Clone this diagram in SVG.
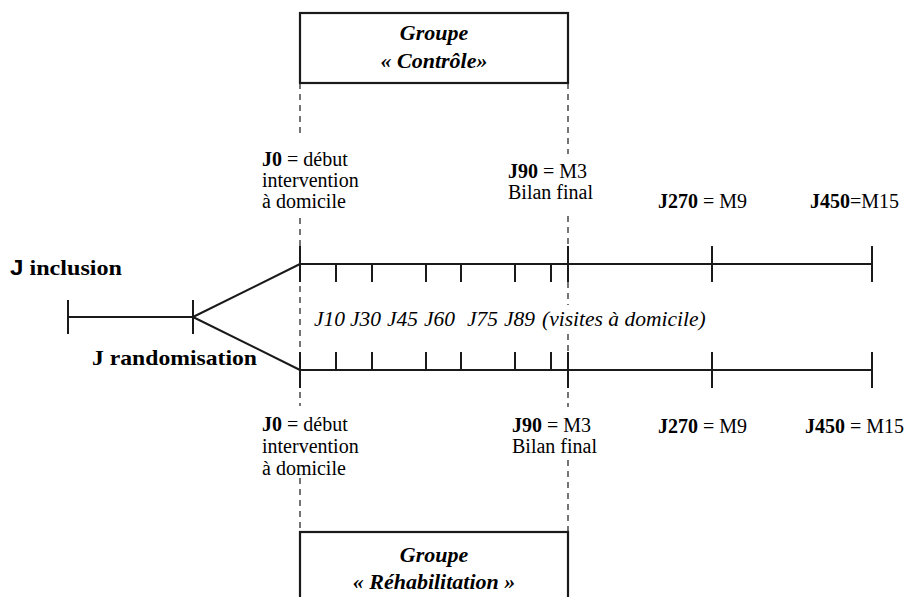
<svg xmlns="http://www.w3.org/2000/svg" width="906" height="597" viewBox="0 0 906 597">
<style>
.ln{stroke:#1a1a1a;stroke-width:2;fill:none}
.dash{stroke:#1a1a1a;stroke-width:1.2;stroke-dasharray:6 5;fill:none}
.box{stroke:#1a1a1a;stroke-width:2.2;fill:#fff}
text{font-family:"Liberation Serif","Times New Roman",serif;fill:#000}
.lab{font-size:20px}
.b{font-weight:bold}
.it{font-size:21.5px;font-style:italic}
.grp{font-size:22px;font-weight:bold;font-style:italic;text-anchor:middle}
.big{font-size:22px;font-weight:bold}
</style>
<rect width="906" height="597" fill="#fff"/>
<g id="connectors">
  <!-- dashed guides -->
  <path class="dash" d="M300,83 V138 M300,218 V264 M300,264 V370 M300,370 V406 M300,478 V532"/>
  <path class="dash" d="M568,83 V154 M568,216 V305 M568,334 V370 M568,370 V407 M568,460 V532"/>
  <!-- inclusion segment -->
  <path class="ln" d="M68,317 H193 M68,300 V334 M193,300 V334"/>
  <path class="ln" d="M193,317 L300,264 M193,317 L300,370"/>
  <!-- top timeline -->
  <path class="ln" d="M300,264 H872 M300,246 V282 M568,246 V282 M712,246 V282 M872,246 V282"/>
  <path class="ln" d="M336,264 V282 M372,264 V282 M426,264 V282 M461,264 V282 M515,264 V282 M551,264 V282"/>
  <!-- bottom timeline -->
  <path class="ln" d="M300,370 H872 M300,352 V388 M568,352 V388 M712,352 V388 M872,352 V388"/>
  <path class="ln" d="M336,352 V370 M372,352 V370 M426,352 V370 M461,352 V370 M515,352 V370 M551,352 V370"/>
</g>
<g id="groupe-controle">
  <rect class="box" x="300" y="13" width="268" height="70"/>
  <text class="grp" x="434" y="40">Groupe</text>
  <text class="grp" x="434" y="68">« Contrôle»</text>
</g>
<g id="groupe-rehabilitation">
  <rect class="box" x="300" y="532" width="268" height="80"/>
  <text class="grp" x="434" y="562">Groupe</text>
  <text class="grp" x="434" y="589">« Réhabilitation »</text>
</g>
<g id="j-inclusion">
  <text class="big" x="10" y="275" textLength="112" lengthAdjust="spacingAndGlyphs"><tspan font-family="Liberation Sans, Arial, sans-serif">J</tspan> inclusion</text>
</g>
<g id="j-randomisation">
  <text class="big" x="92" y="365" textLength="165" lengthAdjust="spacingAndGlyphs">J randomisation</text>
</g>
<g id="visites">
  <text class="it" y="326"><tspan x="314">J10</tspan><tspan x="350">J30</tspan><tspan x="387">J45</tspan><tspan x="424">J60</tspan><tspan x="467">J75</tspan><tspan x="504">J89</tspan><tspan x="542">(visites à domicile)</tspan></text>
</g>
<g id="top-j0">
  <text class="lab" x="262" y="166"><tspan class="b">J0</tspan> = début</text>
  <text class="lab" x="262" y="187">intervention</text>
  <text class="lab" x="262" y="208">à domicile</text>
</g>
<g id="top-j90">
  <text class="lab" x="508" y="178"><tspan class="b">J90</tspan> = M3</text>
  <text class="lab" x="508" y="199">Bilan final</text>
</g>
<g id="top-j270">
  <text class="lab" x="658" y="208"><tspan class="b">J270</tspan> = M9</text>
</g>
<g id="top-j450">
  <text class="lab" x="810" y="208"><tspan class="b">J450</tspan>=M15</text>
</g>
<g id="bottom-j0">
  <text class="lab" x="262" y="431"><tspan class="b">J0</tspan> = début</text>
  <text class="lab" x="262" y="453">intervention</text>
  <text class="lab" x="262" y="475">à domicile</text>
</g>
<g id="bottom-j90">
  <text class="lab" x="512" y="432"><tspan class="b">J90</tspan> = M3</text>
  <text class="lab" x="512" y="453">Bilan final</text>
</g>
<g id="bottom-j270">
  <text class="lab" x="658" y="433"><tspan class="b">J270</tspan> = M9</text>
</g>
<g id="bottom-j450">
  <text class="lab" x="805" y="433"><tspan class="b">J450</tspan> = M15</text>
</g>
</svg>
